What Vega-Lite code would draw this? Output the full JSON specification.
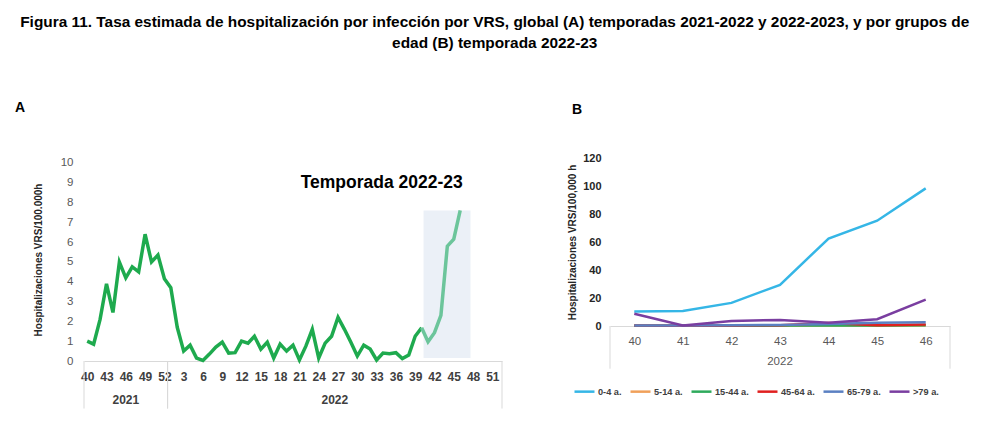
{
  "$schema": "https://vega.github.io/schema/vega-lite/v6.json",
  "padding": {"left": 15, "top": 14, "right": 0, "bottom": 0},
  "background": "white",
  "title": {
    "text": ["Figura 11. Tasa estimada de hospitalización por infección por VRS, global (A) temporadas 2021-2022 y 2022-2023, y por grupos de", "edad (B) temporada 2022-23"],
    "anchor": "middle", "font": "Liberation Sans", "fontSize": 15.4, "fontWeight": "bold", "color": "#000000", "lineHeight": 21, "offset": 50, "dx": 12
  },
  "config": {"view": {"stroke": null}, "concat": {"spacing": 64}, "axis": {"labelOverlap": false}},
  "resolve": {"scale": {"color": "independent"}, "legend": {"color": "independent"}},
  "hconcat": [
    {
      "width": 418, "height": 203,
      "title": {"text": "A", "anchor": "start", "frame": "group", "dx": -69, "font": "Liberation Sans", "fontSize": 14, "fontWeight": "bold", "color": "#000", "offset": 42},
      "layer": [
        {
          "data": {"values": [{"label": "Temporada 2022-23"}]},
          "mark": {"type": "rect", "color": "#ebf0f7"},
          "encoding": {
            "x": {"datum": 52.3, "type": "quantitative",
              "scale": {"domain": [-0.5, 64.5], "nice": false, "zero": false},
              "axis": {"title": null, "values": [0,3,6,9,12,15,18,21,24,27,30,33,36,39,42,45,48,51,54,57,60,63], "tickCount": 40,
                "labelExpr": "datum.value <= 12 ? datum.value + 40 : datum.value - 12", "labelOverlap": false,
                "grid": false, "ticks": false, "domainColor": "#d9d9d9", "labelPadding": 10,
                "labelFont": "Liberation Sans", "labelFontSize": 12, "labelFontWeight": "bold", "labelColor": "#404040"}},
            "x2": {"datum": 59.6},
            "y": {"datum": 0.15, "type": "quantitative",
              "scale": {"domain": [0, 10.25], "nice": false},
              "axis": {"title": "Hospitalizaciones VRS/100.000h", "values": [0,1,2,3,4,5,6,7,8,9,10], "tickCount": 20, "format": "d", "labelOverlap": false, "grid": false, "ticks": false, "domain": false,
                "labelFont": "Liberation Sans", "labelFontSize": 11.5, "labelColor": "#595959", "labelPadding": 11,
                "titleFont": "Liberation Sans", "titleFontSize": 10, "titleFontWeight": "bold", "titleColor": "#262626", "titlePadding": 17}},
            "y2": {"datum": 7.6}
          }
        },
        {
          "data": {"values": [
            {"year": 2021, "week": 40, "idx": 0, "value": 1.0, "seg": "a"},
            {"year": 2021, "week": 41, "idx": 1, "value": 0.85, "seg": "a"},
            {"year": 2021, "week": 42, "idx": 2, "value": 2.1, "seg": "a"},
            {"year": 2021, "week": 43, "idx": 3, "value": 3.9, "seg": "a"},
            {"year": 2021, "week": 44, "idx": 4, "value": 2.45, "seg": "a"},
            {"year": 2021, "week": 45, "idx": 5, "value": 5.0, "seg": "a"},
            {"year": 2021, "week": 46, "idx": 6, "value": 4.2, "seg": "a"},
            {"year": 2021, "week": 47, "idx": 7, "value": 4.75, "seg": "a"},
            {"year": 2021, "week": 48, "idx": 8, "value": 4.5, "seg": "a"},
            {"year": 2021, "week": 49, "idx": 9, "value": 6.4, "seg": "a"},
            {"year": 2021, "week": 50, "idx": 10, "value": 5.0, "seg": "a"},
            {"year": 2021, "week": 51, "idx": 11, "value": 5.35, "seg": "a"},
            {"year": 2021, "week": 52, "idx": 12, "value": 4.15, "seg": "a"},
            {"year": 2022, "week": 1, "idx": 13, "value": 3.7, "seg": "a"},
            {"year": 2022, "week": 2, "idx": 14, "value": 1.7, "seg": "a"},
            {"year": 2022, "week": 3, "idx": 15, "value": 0.5, "seg": "a"},
            {"year": 2022, "week": 4, "idx": 16, "value": 0.8, "seg": "a"},
            {"year": 2022, "week": 5, "idx": 17, "value": 0.15, "seg": "a"},
            {"year": 2022, "week": 6, "idx": 18, "value": 0.03, "seg": "a"},
            {"year": 2022, "week": 7, "idx": 19, "value": 0.35, "seg": "a"},
            {"year": 2022, "week": 8, "idx": 20, "value": 0.7, "seg": "a"},
            {"year": 2022, "week": 9, "idx": 21, "value": 0.95, "seg": "a"},
            {"year": 2022, "week": 10, "idx": 22, "value": 0.4, "seg": "a"},
            {"year": 2022, "week": 11, "idx": 23, "value": 0.42, "seg": "a"},
            {"year": 2022, "week": 12, "idx": 24, "value": 1.0, "seg": "a"},
            {"year": 2022, "week": 13, "idx": 25, "value": 0.9, "seg": "a"},
            {"year": 2022, "week": 14, "idx": 26, "value": 1.25, "seg": "a"},
            {"year": 2022, "week": 15, "idx": 27, "value": 0.6, "seg": "a"},
            {"year": 2022, "week": 16, "idx": 28, "value": 0.95, "seg": "a"},
            {"year": 2022, "week": 17, "idx": 29, "value": 0.15, "seg": "a"},
            {"year": 2022, "week": 18, "idx": 30, "value": 0.85, "seg": "a"},
            {"year": 2022, "week": 19, "idx": 31, "value": 0.5, "seg": "a"},
            {"year": 2022, "week": 20, "idx": 32, "value": 0.8, "seg": "a"},
            {"year": 2022, "week": 21, "idx": 33, "value": 0.05, "seg": "a"},
            {"year": 2022, "week": 22, "idx": 34, "value": 0.75, "seg": "a"},
            {"year": 2022, "week": 23, "idx": 35, "value": 1.6, "seg": "a"},
            {"year": 2022, "week": 24, "idx": 36, "value": 0.15, "seg": "a"},
            {"year": 2022, "week": 25, "idx": 37, "value": 0.9, "seg": "a"},
            {"year": 2022, "week": 26, "idx": 38, "value": 1.25, "seg": "a"},
            {"year": 2022, "week": 27, "idx": 39, "value": 2.2, "seg": "a"},
            {"year": 2022, "week": 28, "idx": 40, "value": 1.6, "seg": "a"},
            {"year": 2022, "week": 29, "idx": 41, "value": 0.95, "seg": "a"},
            {"year": 2022, "week": 30, "idx": 42, "value": 0.25, "seg": "a"},
            {"year": 2022, "week": 31, "idx": 43, "value": 0.8, "seg": "a"},
            {"year": 2022, "week": 32, "idx": 44, "value": 0.6, "seg": "a"},
            {"year": 2022, "week": 33, "idx": 45, "value": 0.05, "seg": "a"},
            {"year": 2022, "week": 34, "idx": 46, "value": 0.4, "seg": "a"},
            {"year": 2022, "week": 35, "idx": 47, "value": 0.37, "seg": "a"},
            {"year": 2022, "week": 36, "idx": 48, "value": 0.42, "seg": "a"},
            {"year": 2022, "week": 37, "idx": 49, "value": 0.12, "seg": "a"},
            {"year": 2022, "week": 38, "idx": 50, "value": 0.3, "seg": "a"},
            {"year": 2022, "week": 39, "idx": 51, "value": 1.25, "seg": "a"},
            {"year": 2022, "week": 40, "idx": 52, "value": 1.68, "seg": "a"},
            {"year": 2022, "week": 40, "idx": 52, "value": 1.68, "seg": "b"},
            {"year": 2022, "week": 41, "idx": 53, "value": 0.97, "seg": "b"},
            {"year": 2022, "week": 42, "idx": 54, "value": 1.43, "seg": "b"},
            {"year": 2022, "week": 43, "idx": 55, "value": 2.3, "seg": "b"},
            {"year": 2022, "week": 44, "idx": 56, "value": 5.8, "seg": "b"},
            {"year": 2022, "week": 45, "idx": 57, "value": 6.15, "seg": "b"},
            {"year": 2022, "week": 46, "idx": 58, "value": 7.6, "seg": "b"}
          ]},
          "mark": {"type": "line", "strokeWidth": 3.5, "strokeJoin": "miter"},
          "encoding": {
            "x": {"field": "idx", "type": "quantitative"},
            "y": {"field": "value", "type": "quantitative"},
            "color": {"field": "seg", "type": "nominal", "scale": {"domain": ["a", "b"], "range": ["#1eaa4e", "#6cc59b"]}, "legend": null}
          }
        },
        {
          "data": {"values": [{"label": "Temporada 2022-23"}]},
          "mark": {"type": "text", "font": "Liberation Sans", "fontSize": 17.5, "fontWeight": "bold", "color": "#000"},
          "encoding": {
            "x": {"datum": 45.8, "type": "quantitative"},
            "y": {"datum": 9.0, "type": "quantitative"},
            "text": {"field": "label"}
          }
        },
        {
          "data": {"values": [{"year": "2021", "start": -0.5, "end": 12.5, "mid": 6}, {"year": "2022", "start": 12.5, "end": 64.5, "mid": 38.5}]},
          "layer": [
            {"mark": {"type": "rule", "color": "#d9d9d9", "clip": false}, "encoding": {"x": {"field": "start", "type": "quantitative"}, "y": {"datum": 0, "type": "quantitative"}, "y2": {"datum": -2.4}}},
            {"mark": {"type": "rule", "color": "#d9d9d9", "clip": false}, "encoding": {"x": {"field": "end", "type": "quantitative"}, "y": {"datum": 0, "type": "quantitative"}, "y2": {"datum": -2.4}}},
            {"mark": {"type": "text", "font": "Liberation Sans", "fontSize": 12, "fontWeight": "bold", "color": "#404040"},
              "encoding": {"x": {"field": "mid", "type": "quantitative"}, "y": {"datum": -1.98, "type": "quantitative"}, "text": {"field": "year"}}}
          ]
        }
      ]
    },
    {
      "width": 340, "height": 168,
      "title": {"text": "B", "anchor": "start", "frame": "group", "dx": -38, "font": "Liberation Sans", "fontSize": 14, "fontWeight": "bold", "color": "#000", "offset": 35},
      "layer": [
        {
          "data": {"values": [
            {"grupo": "0-4 a.", "week": 40, "value": 10.3}, {"grupo": "0-4 a.", "week": 41, "value": 10.7}, {"grupo": "0-4 a.", "week": 42, "value": 16.5}, {"grupo": "0-4 a.", "week": 43, "value": 29.4}, {"grupo": "0-4 a.", "week": 44, "value": 62.5}, {"grupo": "0-4 a.", "week": 45, "value": 75.2}, {"grupo": "0-4 a.", "week": 46, "value": 98.3},
            {"grupo": "5-14 a.", "week": 40, "value": 0.1}, {"grupo": "5-14 a.", "week": 41, "value": 0.1}, {"grupo": "5-14 a.", "week": 42, "value": 0.1}, {"grupo": "5-14 a.", "week": 43, "value": 0.2}, {"grupo": "5-14 a.", "week": 44, "value": 0.3}, {"grupo": "5-14 a.", "week": 45, "value": 0.2}, {"grupo": "5-14 a.", "week": 46, "value": 0.3},
            {"grupo": "15-44 a.", "week": 40, "value": 0.2}, {"grupo": "15-44 a.", "week": 41, "value": 0.1}, {"grupo": "15-44 a.", "week": 42, "value": 0.2}, {"grupo": "15-44 a.", "week": 43, "value": 0.3}, {"grupo": "15-44 a.", "week": 44, "value": 0.4}, {"grupo": "15-44 a.", "week": 45, "value": 0.3}, {"grupo": "15-44 a.", "week": 46, "value": 0.5},
            {"grupo": "45-64 a.", "week": 40, "value": 0.3}, {"grupo": "45-64 a.", "week": 41, "value": 0.2}, {"grupo": "45-64 a.", "week": 42, "value": 0.4}, {"grupo": "45-64 a.", "week": 43, "value": 0.6}, {"grupo": "45-64 a.", "week": 44, "value": 2.2}, {"grupo": "45-64 a.", "week": 45, "value": 0.5}, {"grupo": "45-64 a.", "week": 46, "value": 1.0},
            {"grupo": "65-79 a.", "week": 40, "value": 0.4}, {"grupo": "65-79 a.", "week": 41, "value": 0.4}, {"grupo": "65-79 a.", "week": 42, "value": 0.6}, {"grupo": "65-79 a.", "week": 43, "value": 0.8}, {"grupo": "65-79 a.", "week": 44, "value": 1.5}, {"grupo": "65-79 a.", "week": 45, "value": 2.3}, {"grupo": "65-79 a.", "week": 46, "value": 2.6},
            {"grupo": ">79 a.", "week": 40, "value": 8.8}, {"grupo": ">79 a.", "week": 41, "value": 0.3}, {"grupo": ">79 a.", "week": 42, "value": 3.6}, {"grupo": ">79 a.", "week": 43, "value": 4.3}, {"grupo": ">79 a.", "week": 44, "value": 2.4}, {"grupo": ">79 a.", "week": 45, "value": 4.8}, {"grupo": ">79 a.", "week": 46, "value": 18.9}
          ]},
          "mark": {"type": "line", "strokeWidth": 2.5},
          "encoding": {
            "x": {"field": "week", "type": "quantitative",
              "scale": {"domain": [39.5, 46.5], "nice": false, "zero": false},
              "axis": {"title": null, "values": [40,41,42,43,44,45,46], "tickCount": 20, "format": "d", "labelOverlap": false, "grid": false, "ticks": false, "domainColor": "#d9d9d9", "labelPadding": 9,
                "labelFont": "Liberation Sans", "labelFontSize": 11.5, "labelColor": "#595959"}},
            "y": {"field": "value", "type": "quantitative",
              "scale": {"domain": [0, 120], "nice": false},
              "axis": {"title": "Hospitalizaciones VRS/100,000 h", "values": [0,20,40,60,80,100,120], "tickCount": 20, "format": "d", "labelOverlap": false, "grid": false, "ticks": false, "domain": false,
                "labelFont": "Liberation Sans", "labelFontSize": 11, "labelFontWeight": "bold", "labelColor": "#262626", "labelPadding": 9,
                "titleFont": "Liberation Sans", "titleFontSize": 10, "titleFontWeight": "bold", "titleColor": "#262626", "titlePadding": 5}},
            "color": {"field": "grupo", "type": "nominal",
              "scale": {"domain": ["0-4 a.", "5-14 a.", "15-44 a.", "45-64 a.", "65-79 a.", ">79 a."], "range": ["#35b6e6", "#f0a05a", "#2eaa5c", "#e0201f", "#5b80c2", "#7a3ea0"]},
              "legend": {"title": null, "orient": "none", "legendX": -37, "legendY": 222, "direction": "horizontal", "columns": 6,
                "symbolType": "stroke", "symbolSize": 400, "symbolStrokeWidth": 2.5, "columnPadding": 3, "labelOffset": 2,
                "labelFont": "Liberation Sans", "labelFontSize": 9.2, "labelFontWeight": "bold", "labelColor": "#404040"}}
          }
        },
        {
          "data": {"values": [{"year": "2022", "start": 39.5, "end": 46.5, "mid": 43}]},
          "layer": [
            {"mark": {"type": "rule", "color": "#d9d9d9", "clip": false}, "encoding": {"x": {"field": "start", "type": "quantitative"}, "y": {"datum": 0, "type": "quantitative"}, "y2": {"datum": -30.5}}},
            {"mark": {"type": "rule", "color": "#d9d9d9", "clip": false}, "encoding": {"x": {"field": "end", "type": "quantitative"}, "y": {"datum": 0, "type": "quantitative"}, "y2": {"datum": -30.5}}},
            {"mark": {"type": "text", "font": "Liberation Sans", "fontSize": 11.5, "color": "#595959"},
              "encoding": {"x": {"field": "mid", "type": "quantitative"}, "y": {"datum": -25.5, "type": "quantitative"}, "text": {"field": "year"}}}
          ]
        }
      ]
    }
  ]
}
